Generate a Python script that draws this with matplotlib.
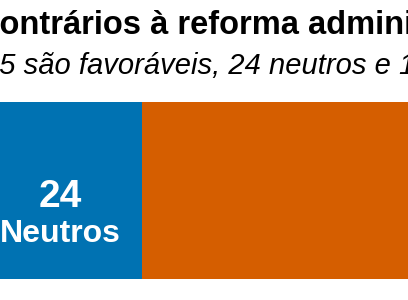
import matplotlib.pyplot as plt
import matplotlib.transforms as mtransforms

# Data
categorias = ['Favoráveis', 'Neutros', 'Contrários']
valores = [35, 24, 154]
cores = ['#009E73', '#0072B2', '#D55E00']

titulo = 'Contrários à reforma administrativa'
subtitulo = '35 são favoráveis, 24 neutros e 154 contrários'

plt.rcParams['font.family'] = ['Liberation Sans', 'DejaVu Sans']

W, H = 408, 300
fig = plt.figure(figsize=(W / 100, H / 100), dpi=100)
ax = fig.add_axes([0, 1 - 279 / H, 1, 177 / H])

left = 0
for cat, val, cor in zip(categorias, valores, cores):
    ax.barh(0, val, left=left, height=1, color=cor)
    left += val

# zoomed-in window: neutros segment ends at x=142 px, 164 px wide
px_per_unit = 164 / valores[1]
x0 = valores[0] + valores[1] - 142 / px_per_unit
ax.set_xlim(x0, x0 + W / px_per_unit)
ax.set_ylim(-0.5, 0.5)
ax.axis('off')

trans = mtransforms.blended_transform_factory(ax.transData, ax.transAxes)
i = 1
xc = valores[0] + valores[1] / 2
ax.text(xc, 0.407, str(valores[i]), transform=trans, ha='center', va='baseline',
        color='white', fontsize=28, fontweight='bold')
ax.text(xc, 0.209, categorias[i], transform=trans, ha='center', va='baseline',
        color='white', fontsize=23, fontweight='bold')

fig.text(-24 / W, 1 - 34 / H, titulo, ha='left', va='baseline',
         fontsize=23.5, fontweight='bold', color='black')
fig.text(-17 / W, 1 - 74 / H, subtitulo, ha='left', va='baseline',
         fontsize=21, fontstyle='italic', color='black')

fig.savefig('out.png', dpi=100)
